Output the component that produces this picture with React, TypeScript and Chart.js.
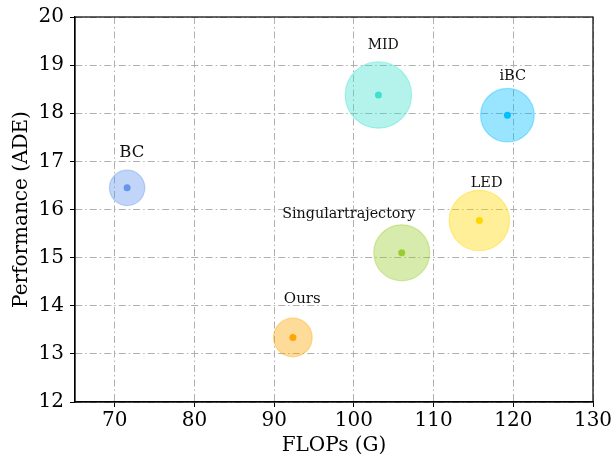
import React, { useEffect, useRef } from "react";
import { Chart, registerables } from "chart.js";

Chart.register(...registerables);

const methods = ["BC", "MID", "iBC", "LED", "Singulartrajectory", "Ours"];
const flops = [71.54, 103.07, 119.26, 115.74, 106.0, 92.34];
const ade = [16.45, 18.38, 17.96, 15.77, 15.1, 13.34];
const bubbleSizes = [17.7, 33.2, 26.8, 30.2, 28.0, 19.3];
const labelX = [72.13, 103.67, 119.93, 116.65, 99.36, 93.52];
const labelY = [17.17, 19.42, 18.77, 16.55, 15.9, 14.14];
const xTicks = [70, 80, 90, 100, 110, 120, 130];
const yTicks = [12, 13, 14, 15, 16, 17, 18, 19, 20];

const STYLE = {
  colors: ["#6495ED", "#40E0D0", "#00BFFF", "#FFD700", "#9ACD32", "#FFA500"],
  labelFont: [16.5, 14, 14.5, 14.5, 14.3, 15],
};

const FONT = "'DejaVu Serif', serif";

function rgba(hex: string, a: number) {
  const n = parseInt(hex.slice(1), 16);
  return `rgba(${(n >> 16) & 255},${(n >> 8) & 255},${n & 255},${a})`;
}

const framePlugin = {
  id: "frameAndLabels",
  afterDatasetsDraw(chart: any) {
    const { ctx, chartArea, scales } = chart;
    ctx.save();
    ctx.strokeStyle = "#000";
    ctx.lineWidth = 1.2;
    ctx.setLineDash([]);
    ctx.strokeRect(chartArea.left, chartArea.top, chartArea.right - chartArea.left, chartArea.bottom - chartArea.top);
    ctx.fillStyle = "#111";
    ctx.textAlign = "center";
    ctx.textBaseline = "middle";
    methods.forEach((m, i) => {
      ctx.font = `${STYLE.labelFont[i]}px ${FONT}`;
      ctx.fillText(m, scales.x.getPixelForValue(labelX[i]), scales.y.getPixelForValue(labelY[i]));
    });
    ctx.restore();
  },
};

const gridOpts = {
  color: "#b0b0b0",
  lineWidth: 1,
  tickBorderDash: [],
  tickColor: "#000",
  tickLength: 5,
  tickWidth: 1,
};

export default function App() {
  const ref = useRef<HTMLCanvasElement>(null);
  useEffect(() => {
    if (!ref.current) return;
    const chart = new Chart(ref.current, {
      type: "bubble",
      data: {
        datasets: [
          {
            label: "bubbles",
            data: methods.map((_, i) => ({ x: flops[i], y: ade[i], r: bubbleSizes[i] })),
            backgroundColor: STYLE.colors.map((c) => rgba(c, 0.4)),
            borderColor: STYLE.colors.map((c) => rgba(c, 0.4)),
            borderWidth: 1.2,
          },
          {
            label: "centers",
            data: methods.map((_, i) => ({ x: flops[i], y: ade[i], r: 3.5 })),
            backgroundColor: STYLE.colors,
            borderWidth: 0,
          },
        ],
      },
      options: {
        responsive: false,
        animation: false,
        devicePixelRatio: 1,
        layout: { autoPadding: false, padding: { top: 17, right: 21, left: 0, bottom: 0 } },
        plugins: { legend: { display: false }, tooltip: { enabled: false } },
        scales: {
          x: {
            type: "linear",
            min: 65,
            max: 130,
            afterBuildTicks: (s: any) => {
              s.ticks = xTicks.map((v) => ({ value: v }));
            },
            afterFit: (s: any) => {
              s.height = 56;
              s.paddingLeft = 0;
              s.paddingRight = 0;
              s.paddingTop = 0;
              s.paddingBottom = 0;
            },
            grid: gridOpts,
            border: { color: "#000", width: 1.2, dash: [7, 3, 1.5, 3] },
            ticks: {
              color: "#000",
              font: { family: FONT, size: 20 },
              padding: 2,
              maxRotation: 0,
              callback: (v: any) => String(v),
            },
            title: {
              display: true,
              text: "FLOPs (G)",
              color: "#000",
              font: { family: FONT, size: 20 },
              padding: { top: 0, bottom: 0 },
            },
          },
          y: {
            type: "linear",
            min: 12,
            max: 20,
            afterBuildTicks: (s: any) => {
              s.ticks = yTicks.map((v) => ({ value: v }));
            },
            afterFit: (s: any) => {
              s.width = 75;
              s.paddingLeft = 0;
              s.paddingRight = 0;
              s.paddingTop = 0;
              s.paddingBottom = 0;
            },
            grid: gridOpts,
            border: { color: "#000", width: 1.2, dash: [7, 3, 1.5, 3] },
            ticks: {
              color: "#000",
              font: { family: FONT, size: 20 },
              padding: 6,
              callback: (v: any) => String(v),
            },
            title: {
              display: true,
              text: "Performance (ADE)",
              color: "#000",
              font: { family: FONT, size: 20 },
              padding: { top: 10, bottom: 0 },
            },
          },
        },
      },
      plugins: [framePlugin],
    });
    return () => chart.destroy();
  }, []);
  return (
    <div style={{ position: "fixed", left: 0, top: 0, width: 614, height: 458, background: "#fff" }}>
      <canvas ref={ref} width={614} height={458} />
    </div>
  );
}
